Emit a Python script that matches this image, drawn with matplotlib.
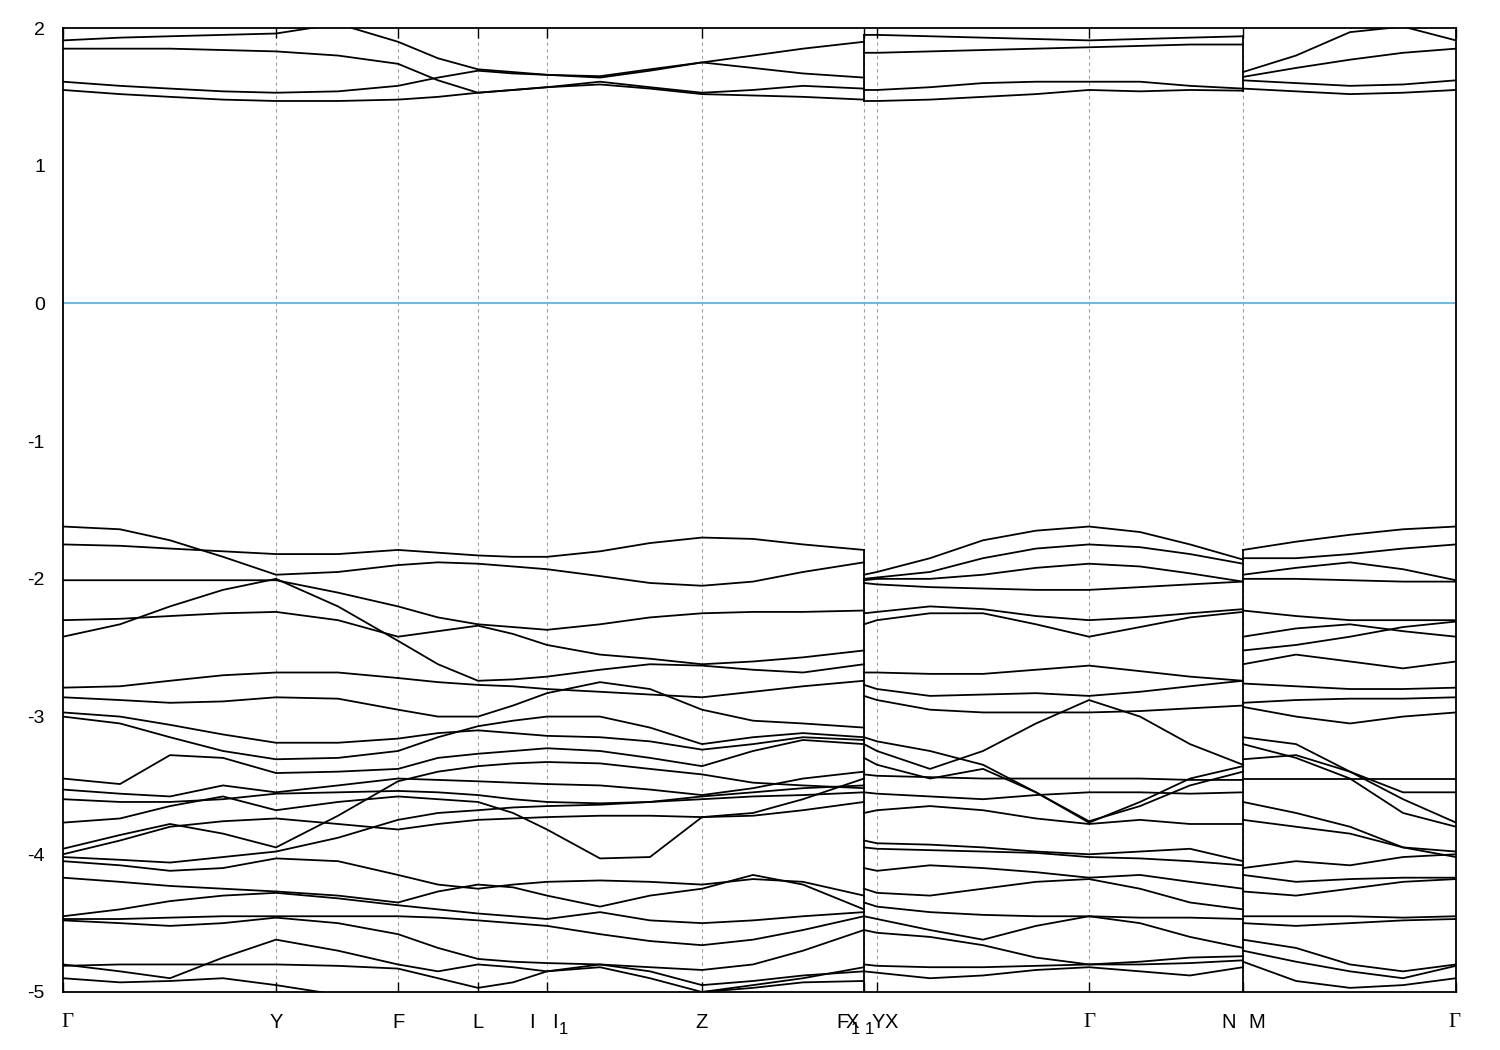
import numpy as np
import matplotlib
matplotlib.use("Agg")
import matplotlib.pyplot as plt

plt.rcParams['font.family'] = ['Liberation Sans', 'DejaVu Sans']

# high-symmetry positions along the path
kpts = [0, 213, 335, 415, 484, 639, 801, 814, 1026, 1180, 1393]

# ---------- segment A: Γ-Y-F-L-I|I1-Z-F1 ----------
xA = [0, 57, 107, 160, 213, 275, 335, 375, 415, 450, 484, 537, 587, 639, 690, 740, 801]
condA = [
    [1.55, 1.52, 1.50, 1.48, 1.47, 1.47, 1.48, 1.50, 1.53, 1.55, 1.57, 1.59, 1.56, 1.52, 1.51, 1.50, 1.48],
    [1.61, 1.58, 1.56, 1.54, 1.53, 1.54, 1.58, 1.64, 1.69, 1.67, 1.66, 1.64, 1.69, 1.75, 1.71, 1.67, 1.64],
    [1.85, 1.85, 1.85, 1.84, 1.83, 1.80, 1.74, 1.62, 1.53, 1.55, 1.57, 1.61, 1.57, 1.53, 1.55, 1.58, 1.56],
    [1.91, 1.93, 1.94, 1.95, 1.96, 2.03, 1.90, 1.78, 1.70, 1.68, 1.66, 1.65, 1.70, 1.75, 1.80, 1.85, 1.90],
]
valA = [
    [-1.62, -1.64, -1.72, -1.84, -1.97, -1.95, -1.90, -1.88, -1.89, -1.91, -1.93, -1.98, -2.03, -2.05, -2.02, -1.95, -1.88],
    [-1.75, -1.76, -1.78, -1.80, -1.82, -1.82, -1.79, -1.81, -1.83, -1.84, -1.84, -1.80, -1.74, -1.70, -1.71, -1.75, -1.79],
    [-2.01, -2.01, -2.01, -2.01, -2.01, -2.10, -2.20, -2.28, -2.33, -2.35, -2.37, -2.33, -2.28, -2.25, -2.24, -2.24, -2.23],
    [-2.30, -2.29, -2.27, -2.25, -2.24, -2.30, -2.42, -2.38, -2.34, -2.40, -2.48, -2.55, -2.58, -2.62, -2.60, -2.57, -2.52],
    [-2.42, -2.33, -2.20, -2.08, -2.00, -2.20, -2.45, -2.62, -2.74, -2.73, -2.71, -2.66, -2.62, -2.63, -2.66, -2.68, -2.62],
    [-2.79, -2.78, -2.74, -2.70, -2.68, -2.68, -2.72, -2.75, -2.77, -2.78, -2.80, -2.82, -2.84, -2.86, -2.82, -2.78, -2.74],
    [-2.86, -2.88, -2.90, -2.89, -2.86, -2.87, -2.95, -3.00, -3.00, -2.92, -2.83, -2.75, -2.80, -2.95, -3.03, -3.05, -3.08],
    [-2.97, -3.00, -3.06, -3.13, -3.19, -3.19, -3.16, -3.12, -3.10, -3.12, -3.14, -3.15, -3.18, -3.24, -3.20, -3.15, -3.17],
    [-3.00, -3.05, -3.15, -3.25, -3.31, -3.30, -3.25, -3.15, -3.07, -3.03, -3.00, -3.00, -3.08, -3.20, -3.15, -3.12, -3.15],
    [-3.45, -3.49, -3.28, -3.30, -3.41, -3.40, -3.38, -3.30, -3.27, -3.25, -3.23, -3.25, -3.30, -3.36, -3.25, -3.17, -3.20],
    [-3.53, -3.56, -3.58, -3.50, -3.55, -3.50, -3.45, -3.46, -3.47, -3.48, -3.49, -3.50, -3.53, -3.57, -3.52, -3.45, -3.40],
    [-3.60, -3.62, -3.62, -3.60, -3.56, -3.55, -3.54, -3.55, -3.57, -3.60, -3.62, -3.63, -3.62, -3.58, -3.55, -3.52, -3.50],
    [-3.77, -3.74, -3.65, -3.58, -3.68, -3.62, -3.58, -3.60, -3.62, -3.70, -3.82, -4.03, -4.02, -3.73, -3.72, -3.68, -3.62],
    [-3.96, -3.86, -3.78, -3.85, -3.95, -3.72, -3.47, -3.40, -3.36, -3.34, -3.33, -3.34, -3.38, -3.42, -3.48, -3.50, -3.52],
    [-4.00, -3.90, -3.80, -3.76, -3.74, -3.78, -3.82, -3.78, -3.75, -3.74, -3.73, -3.72, -3.72, -3.73, -3.70, -3.60, -3.45],
    [-4.02, -4.04, -4.06, -4.02, -3.98, -3.88, -3.75, -3.70, -3.68, -3.66, -3.65, -3.64, -3.62, -3.60, -3.58, -3.57, -3.55],
    [-4.05, -4.08, -4.12, -4.10, -4.03, -4.05, -4.15, -4.22, -4.25, -4.22, -4.20, -4.19, -4.20, -4.22, -4.18, -4.20, -4.30],
    [-4.17, -4.20, -4.23, -4.25, -4.27, -4.30, -4.35, -4.27, -4.22, -4.24, -4.30, -4.38, -4.30, -4.25, -4.15, -4.22, -4.40],
    [-4.45, -4.40, -4.34, -4.30, -4.28, -4.32, -4.37, -4.40, -4.43, -4.45, -4.47, -4.42, -4.48, -4.50, -4.48, -4.45, -4.42],
    [-4.47, -4.47, -4.46, -4.45, -4.45, -4.45, -4.45, -4.46, -4.48, -4.50, -4.52, -4.58, -4.63, -4.66, -4.62, -4.55, -4.45],
    [-4.48, -4.50, -4.52, -4.50, -4.46, -4.50, -4.58, -4.68, -4.76, -4.78, -4.79, -4.80, -4.82, -4.84, -4.80, -4.70, -4.55],
    [-4.80, -4.85, -4.90, -4.75, -4.62, -4.70, -4.80, -4.85, -4.80, -4.82, -4.85, -4.80, -4.85, -4.95, -4.92, -4.88, -4.85],
    [-4.81, -4.80, -4.80, -4.80, -4.80, -4.81, -4.83, -4.90, -4.97, -4.93, -4.85, -4.82, -4.90, -5.00, -4.97, -4.93, -4.92],
    [-4.90, -4.93, -4.92, -4.90, -4.95, -5.02, -5.10, -5.05, -5.00, -5.00, -5.00, -5.02, -5.05, -5.00, -4.95, -4.90, -4.82],
]

# ---------- segment C: Y-X1|X-Γ-N ----------
xC = [801, 814, 867, 920, 973, 1026, 1077, 1127, 1180]
condC = [
    [1.47, 1.47, 1.48, 1.50, 1.52, 1.55, 1.54, 1.55, 1.545],
    [1.55, 1.55, 1.57, 1.60, 1.61, 1.61, 1.61, 1.58, 1.56],
    [1.82, 1.82, 1.83, 1.84, 1.85, 1.86, 1.87, 1.88, 1.88],
    [1.95, 1.95, 1.94, 1.93, 1.92, 1.91, 1.92, 1.93, 1.94],
]
valC = [
    [-1.97, -1.95, -1.85, -1.72, -1.65, -1.62, -1.66, -1.75, -1.86],
    [-2.00, -1.99, -1.95, -1.85, -1.78, -1.75, -1.77, -1.82, -1.89],
    [-2.01, -2.00, -2.00, -1.97, -1.92, -1.89, -1.91, -1.96, -2.02],
    [-2.03, -2.04, -2.06, -2.07, -2.08, -2.08, -2.06, -2.04, -2.02],
    [-2.25, -2.24, -2.20, -2.22, -2.27, -2.30, -2.28, -2.25, -2.22],
    [-2.33, -2.30, -2.25, -2.25, -2.33, -2.42, -2.35, -2.28, -2.24],
    [-2.68, -2.68, -2.69, -2.69, -2.66, -2.63, -2.67, -2.71, -2.74],
    [-2.77, -2.80, -2.85, -2.84, -2.83, -2.85, -2.82, -2.78, -2.74],
    [-2.85, -2.88, -2.95, -2.97, -2.97, -2.97, -2.96, -2.94, -2.92],
    [-3.20, -3.25, -3.38, -3.25, -3.05, -2.88, -3.00, -3.20, -3.35],
    [-3.15, -3.18, -3.25, -3.35, -3.55, -3.77, -3.62, -3.45, -3.36],
    [-3.30, -3.35, -3.45, -3.38, -3.55, -3.76, -3.65, -3.50, -3.40],
    [-3.42, -3.43, -3.44, -3.45, -3.45, -3.45, -3.45, -3.46, -3.46],
    [-3.55, -3.56, -3.58, -3.60, -3.57, -3.55, -3.55, -3.56, -3.55],
    [-3.70, -3.68, -3.65, -3.68, -3.74, -3.78, -3.75, -3.78, -3.78],
    [-3.90, -3.92, -3.93, -3.95, -3.98, -4.00, -3.98, -3.96, -4.05],
    [-3.95, -3.96, -3.97, -3.98, -3.99, -4.02, -4.03, -4.05, -4.08],
    [-4.10, -4.12, -4.08, -4.10, -4.13, -4.17, -4.15, -4.20, -4.25],
    [-4.25, -4.28, -4.30, -4.25, -4.20, -4.18, -4.25, -4.35, -4.40],
    [-4.35, -4.38, -4.42, -4.44, -4.45, -4.45, -4.46, -4.46, -4.47],
    [-4.45, -4.47, -4.55, -4.62, -4.52, -4.45, -4.50, -4.60, -4.68],
    [-4.55, -4.57, -4.60, -4.66, -4.75, -4.80, -4.78, -4.75, -4.74],
    [-4.80, -4.81, -4.82, -4.82, -4.81, -4.80, -4.80, -4.79, -4.77],
    [-4.85, -4.86, -4.90, -4.88, -4.84, -4.82, -4.85, -4.88, -4.82],
]

# ---------- segment D: M-Γ ----------
xD = [1180, 1233, 1287, 1340, 1393]
condD = [
    [1.56, 1.54, 1.52, 1.53, 1.55],
    [1.62, 1.60, 1.58, 1.59, 1.62],
    [1.645, 1.71, 1.77, 1.82, 1.85],
    [1.68, 1.80, 1.97, 2.01, 1.91],
]
valD = [
    [-1.79, -1.73, -1.68, -1.64, -1.62],
    [-1.85, -1.85, -1.82, -1.78, -1.75],
    [-1.97, -1.92, -1.88, -1.93, -2.01],
    [-2.00, -2.00, -2.01, -2.02, -2.02],
    [-2.23, -2.27, -2.30, -2.30, -2.30],
    [-2.42, -2.36, -2.33, -2.38, -2.42],
    [-2.52, -2.48, -2.42, -2.35, -2.31],
    [-2.62, -2.55, -2.60, -2.65, -2.60],
    [-2.76, -2.78, -2.80, -2.80, -2.79],
    [-2.90, -2.88, -2.87, -2.87, -2.86],
    [-2.93, -3.00, -3.05, -3.00, -2.97],
    [-3.15, -3.20, -3.40, -3.60, -3.77],
    [-3.20, -3.30, -3.45, -3.70, -3.80],
    [-3.31, -3.28, -3.40, -3.55, -3.55],
    [-3.45, -3.45, -3.45, -3.45, -3.45],
    [-3.62, -3.70, -3.80, -3.95, -4.02],
    [-3.75, -3.80, -3.85, -3.95, -3.98],
    [-4.10, -4.05, -4.08, -4.02, -4.00],
    [-4.15, -4.20, -4.18, -4.17, -4.17],
    [-4.27, -4.30, -4.25, -4.20, -4.18],
    [-4.45, -4.45, -4.45, -4.46, -4.45],
    [-4.50, -4.52, -4.50, -4.48, -4.47],
    [-4.62, -4.68, -4.80, -4.85, -4.80],
    [-4.70, -4.78, -4.85, -4.90, -4.81],
    [-4.78, -4.92, -4.97, -4.95, -4.90],
]

fig = plt.figure(figsize=(15, 10.5), dpi=100)
ax = fig.add_axes([63/1500, 58/1050, 1393/1500, 964/1050])

lw = 1.3
for x, bands in ((xA, condA), (xA, valA), (xC, condC), (xC, valC), (xD, condD), (xD, valD)):
    for b in bands:
        ax.plot(x, b, color='black', lw=lw, solid_joinstyle='round')

# vertical jumps at path discontinuities (F1|Y and N|M)
for xl, left, right in ((801, (condA, valA), (condC, valC)), (1180, (condC, valC), (condD, valD))):
    lc = [b[-1] for b in left[0]]
    rc = [b[0] for b in right[0]]
    lv = [b[-1] for b in left[1]]
    rv = [b[0] for b in right[1]]
    ax.plot([xl, xl], [min(lc + rc), max(lc + rc)], color='black', lw=lw)
    ax.plot([xl, xl], [-5, max(lv + rv)], color='black', lw=lw)

ax.axhline(0, color='#56b4e9', lw=1.3)
for k in kpts[1:-1]:
    ax.axvline(k, color='#a0a0a0', lw=0.8, ls=(0, (3, 3)), zorder=0)

ax.set_xlim(0, 1393)
ax.set_ylim(-5, 2)
ax.set_yticks([2, 1, 0, -1, -2, -3, -4, -5])
ax.set_yticklabels(["2", "1", "0", "-1", "-2", "-3", "-4", "-5"])
ax.set_xticks(kpts)
ax.set_xticklabels([""] * len(kpts))
ax.tick_params(axis='y', length=0, labelsize=14, pad=13)
ax.tick_params(axis='x', direction='in', length=7, width=1, top=True)
for s in ax.spines.values():
    s.set_linewidth(1.3)

# k-point labels (drawn as text to keep their overlapped look)
ty = -5.15
sy = -5.215
for xg in (4, 1026, 1391):
    ax.text(xg, ty, "Γ", family=['Liberation Serif', 'DejaVu Serif'], fontsize=15, ha='center', va='top')
main_labels = [(213, "Y"), (335, "F"), (415, "L"), (469, "I"), (492, "I"), (639, "Z"),
               (779.5, "F"), (789, "X"), (815, "Y"), (828, "X"), (1166, "N"), (1194, "M")]
for xx, s in main_labels:
    ax.text(xx, ty, s, fontsize=14.5, ha='center', va='top')
for xx in (500, 792.5, 806.5):
    ax.text(xx, sy, "1", fontsize=12, ha='center', va='top')

fig.savefig("out.png", dpi=100)
